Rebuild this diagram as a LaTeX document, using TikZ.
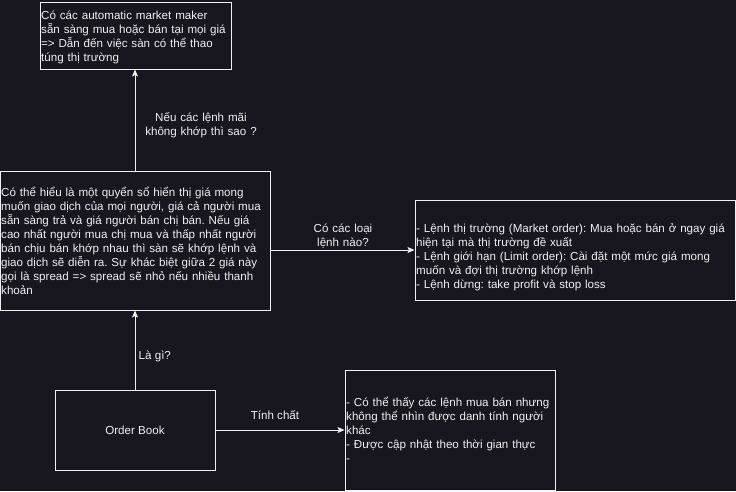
\documentclass[tikz,border=0pt]{standalone}
\usepackage{fontspec}
\setmainfont{Liberation Sans}
\usetikzlibrary{arrows.meta}
\frenchspacing
\definecolor{bg}{RGB}{24,22,31}
\definecolor{fg}{RGB}{240,240,240}
\tikzset{
  box/.style={draw=fg, line width=1pt, rectangle, inner sep=0pt},
  txt/.style={text=fg, inner sep=0pt, align=left, text width=#1, font=\fontsize{11.6pt}{14pt}\selectfont},
  lbl/.style={text=fg, inner sep=0pt, align=center, text width=#1, font=\fontsize{11.6pt}{14pt}\selectfont},
  lone/.style={text=fg, inner sep=0pt, font=\fontsize{11.6pt}{14pt}\selectfont},
  arr/.style={draw=fg, line width=1pt, -{Stealth[length=7pt,width=6pt,inset=1.5pt]}}
}
\begin{document}
\begin{tikzpicture}[x=1pt,y=-1pt]
\fill[bg] (0,0) rectangle (736,491);
\useasboundingbox (0,0) rectangle (736,491);
% boxes
\node[box, minimum width=191pt, minimum height=67pt] (top) at (135.5,35.5) {};
\node[box, minimum width=270pt, minimum height=139pt] (mid) at (135,240.5) {};
\node[box, minimum width=320pt, minimum height=100pt] (right) at (575,250) {};
\node[box, minimum width=210pt, minimum height=120pt] (br) at (450,430) {};
\node[box, minimum width=160pt, minimum height=80pt] (ob) at (135,430) {};
% texts
\node[txt=400pt, anchor=base west] (ttop) at (41,19) {Có các automatic market maker\\sẵn sàng mua hoặc bán tại mọi giá\\=> Dẫn đến việc sàn có thể thao\\túng thị trường};
\node[txt=400pt, anchor=base west] (tmid) at (1,196) {Có thể hiểu là một quyển sổ hiển thị giá mong\\muốn giao dịch của mọi người, giá cả người mua\\sẵn sàng trả và giá người bán chị bán. Nếu giá\\cao nhất người mua chị mua và thấp nhất người\\bán chịu bán khớp nhau thì sàn sẽ khớp lệnh và\\giao dịch sẽ diễn ra. Sự khác biệt giữa 2 giá này\\gọi là spread => spread sẽ nhỏ nếu nhiều thanh\\khoản};
\node[txt=400pt, anchor=base west] (tright) at (416,232) {- Lệnh thị trường (Market order): Mua hoặc bán ở ngay giá\\hiện tại mà thị trường đề xuất\\- Lệnh giới hạn (Limit order): Cài đặt một mức giá mong\\muốn và đợi thị trường khớp lệnh\\- Lệnh dừng: take profit và stop loss};
\node[txt=400pt, anchor=base west] (tbr) at (346,406) {- Có thể thấy các lệnh mua bán nhưng\\không thể nhìn được danh tính người\\khác\\- Được cập nhật theo thời gian thực\\-};
\node[lone, anchor=base] (tob) at (135,434) {Order Book};
% connectors
\draw[arr] (ob.north) -- (mid.south);
\draw[arr] (mid.north) -- (mid.north |- top.south);
\draw[arr] (mid.east |- right.west) -- (right.west);
\draw[arr] (ob.east) -- (br.west);
% connector labels
\node[lbl=140pt, anchor=base] (l1) at (201,121) {Nếu các lệnh mãi\\không khớp thì sao ?};
\node[lbl=100pt, anchor=base] (l2) at (343,232) {Có các loại\\lệnh nào?};
\node[lone, anchor=base west] (l3) at (138.5,359) {Là gì?};
\node[lone, anchor=base] (l4) at (275,419) {Tính chất};
\end{tikzpicture}
\end{document}
